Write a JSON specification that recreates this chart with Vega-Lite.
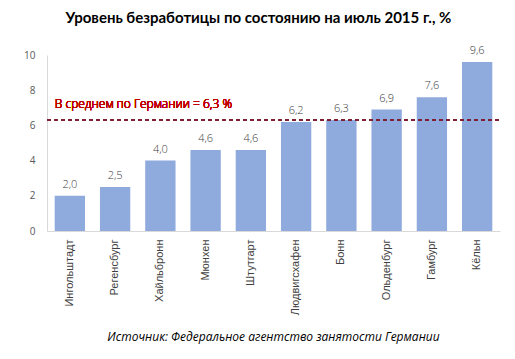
{
  "$schema": "https://vega.github.io/schema/vega-lite/v6.json",
  "width": 453,
  "height": 176,
  "autosize": "none",
  "padding": {"left": 47, "top": 55, "right": 15, "bottom": 128},
  "background": "white",
  "config": {
    "view": {"stroke": null},
    "locale": {"number": {"decimal": ",", "thousands": " ", "grouping": [3], "currency": ["", ""]}},
    "font": "Open Sans"
  },
  "title": {
    "text": "Уровень безработицы по состоянию на июль 2015 г., %",
    "font": "Lato",
    "fontSize": 15,
    "fontWeight": "bold",
    "color": "#000000",
    "anchor": "middle",
    "dx": -15,
    "offset": 19
  },
  "data": {
    "values": [
      {"city": "Ингольштадт", "value": 2.0},
      {"city": "Регенсбург", "value": 2.5},
      {"city": "Хайльбронн", "value": 4.0},
      {"city": "Мюнхен", "value": 4.6},
      {"city": "Штутгарт", "value": 4.6},
      {"city": "Людвигсхафен", "value": 6.2},
      {"city": "Бонн", "value": 6.3},
      {"city": "Ольденбург", "value": 6.9},
      {"city": "Гамбург", "value": 7.6},
      {"city": "Кёльн", "value": 9.6}
    ]
  },
  "encoding": {
    "x": {
      "field": "city",
      "type": "nominal",
      "sort": null,
      "scale": {"paddingInner": 0.33, "paddingOuter": 0.17},
      "axis": {
        "title": "Источник: Федеральное агентство занятости Германии",
        "titleFont": "Open Sans",
        "titleFontStyle": "italic",
        "titleFontWeight": "normal",
        "titleFontSize": 12,
        "titleColor": "#000000",
        "titleY": 100,
        "titleX": 226,
        "labelAngle": -90,
        "labelFont": "Liberation Sans",
        "labelFontSize": 11,
        "labelFontWeight": "normal",
        "labelColor": "#404040",
        "labelPadding": 8,
        "ticks": false,
        "domainColor": "#d9d9d9"
      }
    },
    "y": {
      "field": "value",
      "type": "quantitative",
      "scale": {"domain": [0, 10]},
      "axis": {
        "title": null,
        "values": [0, 2, 4, 6, 8, 10],
        "labelOverlap": false,
        "grid": false,
        "ticks": false,
        "labelFont": "Open Sans",
        "labelFontSize": 10,
        "labelColor": "#595959",
        "labelPadding": 12,
        "domainColor": "#d9d9d9"
      }
    }
  },
  "layer": [
    {
      "mark": {"type": "bar", "color": "#8FAADC"}
    },
    {
      "mark": {"type": "text", "baseline": "bottom", "dy": -6, "fontSize": 11, "fontWeight": 300, "color": "#404040", "font": "Open Sans"},
      "encoding": {
        "text": {"field": "value", "type": "quantitative", "format": ".1f"}
      }
    },
    {
      "mark": {"type": "rule", "color": "#7F1F35", "strokeDash": [4, 3], "strokeWidth": 1},
      "encoding": {"y": {"datum": 6.3}, "x": {"value": 0}, "x2": {"value": 453}}
    },
    {
      "mark": {"type": "text", "align": "left", "baseline": "middle", "dx": -15, "dy": -16, "fontSize": 12, "fontWeight": 300, "color": "#C00000", "font": "Open Sans"},
      "encoding": {
        "x": {"datum": "Ингольштадт"},
        "y": {"datum": 6.3},
        "text": {"value": "В среднем по Германии = 6,3 %"}
      }
    }
  ]
}
